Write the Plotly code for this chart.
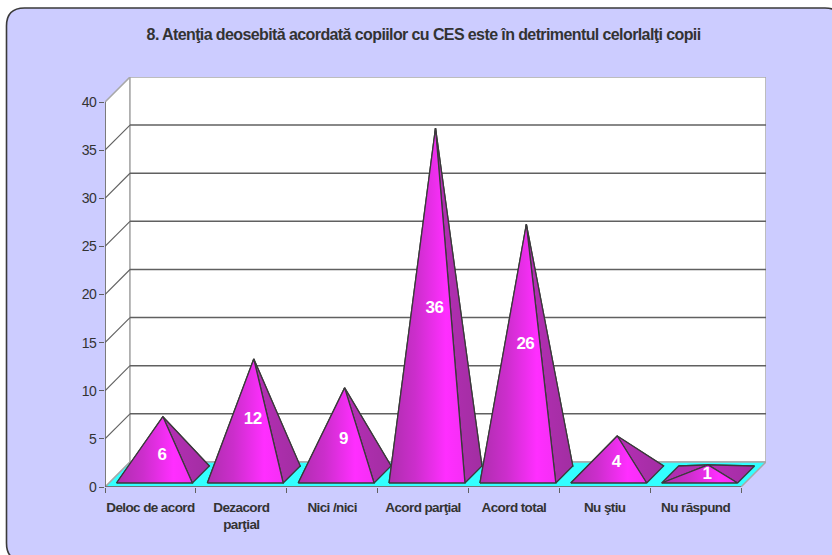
import plotly.graph_objects as go

# ---- data ----
categories = ["Deloc de acord", "Dezacord<br>parţial", "Nici /nici", "Acord parţial",
              "Acord total", "Nu ştiu", "Nu răspund"]
values = [6, 12, 9, 36, 26, 4, 1]
label_levels = [3.2, 7.0, 4.9, 18.5, 14.8, 2.5, 1.3]
y_ticks = [0, 5, 10, 15, 20, 25, 30, 35, 40]
title_text = "8. Atenţia deosebită acordată copiilor cu CES este în detrimentul celorlalţi copii"

# ---- layout constants ----
W, H = 832, 555
ML, MR, MT, MB = 105, 66, 77, 68
DX, DY = 0.275, 2.6          # oblique depth of the 3D box in axis units
FONT = "Liberation Sans, Arial, sans-serif"
TEXT = "#333333"
GRID = "#606060"
n = len(categories)
top = y_ticks[-1]

fig = go.Figure()


def poly(xs, ys, fill=None, line=None, width=1.0, gradient=None, mode="lines"):
    kw = dict(x=xs, y=ys, mode=mode, hoverinfo="skip", showlegend=False, cliponaxis=False)
    kw["line"] = dict(color=line or "rgba(0,0,0,0)", width=width, simplify=False)
    if gradient:
        kw["fill"] = "toself"
        kw["fillgradient"] = gradient
    elif fill:
        kw["fill"] = "toself"
        kw["fillcolor"] = fill
    fig.add_trace(go.Scatter(**kw))


# walls
poly([0, DX, DX, 0, 0], [0, DY, top + DY, top, 0], fill="#FFFFFF", line="#A8A8A8", width=1.2)
poly([DX, n + DX, n + DX, DX, DX], [DY, DY, top + DY, top + DY, DY], fill="#FFFFFF", line="#A8A8A8", width=1.5)

# gridlines
for t in y_ticks[1:-1]:
    poly([DX, n + DX], [t + DY, t + DY], line=GRID, width=1.5)
for t in y_ticks[1:]:
    poly([0, DX], [t, t + DY], line=GRID if t < top else "#A8A8A8", width=1.1)

# floor
poly([0, n, n + DX, DX, 0], [0, 0, DY, DY, 0], fill="#33FFFF", line="#A8A8A8", width=1.5)

# pyramids
front_gradient = dict(type="horizontal",
                      colorscale=[[0, "#AE2EAE"], [0.35, "#CC2ECC"], [0.75, "#FF2EFF"], [1, "#F52EF5"]])
side_gradient = dict(type="horizontal",
                     colorscale=[[0, "#B52EB5"], [1, "#A22EA2"]])
GAP, D0, D1 = 0.0825, 0.16, 0.84
EDGE = "#3A3A3A"
for i, v in enumerate(values):
    xl, xr = i + GAP, i + 1 - GAP
    fl = (xl + D0 * DX, D0 * DY)
    fr = (xr + D0 * DX, D0 * DY)
    br = (xr + D1 * DX, D1 * DY)
    bl = (xl + D1 * DX, D1 * DY)
    ap = (i + 0.5 + 0.5 * DX, 0.5 * DY + v)
    for a, b, fill in ((bl, br, "#9E2E9E"), (fl, bl, "#B02EB0")):
        poly([a[0], b[0], ap[0], a[0]], [a[1], b[1], ap[1], a[1]], fill=fill, line=EDGE, width=1.3)
    poly([fr[0], br[0], ap[0], fr[0]], [fr[1], br[1], ap[1], fr[1]],
         gradient=side_gradient, line=EDGE, width=1.3)
    poly([fl[0], fr[0], ap[0], fl[0]], [fl[1], fr[1], ap[1], fl[1]],
         gradient=front_gradient, line=EDGE, width=1.3)

# axis lines
poly([0, n], [0, 0], line=GRID, width=1.5)
poly([0, 0], [0, top], line=GRID, width=1.5)

# data labels
fig.add_trace(go.Scatter(
    x=[i + 0.5 + 0.5 * DX - 0.012 for i in range(n)], y=label_levels,
    text=[str(v) for v in values], mode="text", textposition="middle center",
    textfont=dict(family=FONT, size=17, color="#FFFFFF", weight="bold"),
    hoverinfo="skip", showlegend=False, cliponaxis=False))

# ---- panel behind everything (rounded, running off the right and bottom) ----
def px(x):
    return (x - ML) / (W - ML - MR)


def py(y):
    return 1 - (y - MT) / (H - MT - MB)


L, T, R, B, C = 6.5, 8, 843, 561, 18
path = (f"M {px(L)},{py(T + C)} Q {px(L)},{py(T)} {px(L + C)},{py(T)} "
        f"L {px(R - C)},{py(T)} Q {px(R)},{py(T)} {px(R)},{py(T + C)} "
        f"L {px(R)},{py(B - C)} Q {px(R)},{py(B)} {px(R - C)},{py(B)} "
        f"L {px(L + C)},{py(B)} Q {px(L)},{py(B)} {px(L)},{py(B - C)} Z")

fig.update_layout(
    width=W, height=H, autosize=False,
    margin=dict(l=ML, r=MR, t=MT, b=MB, pad=0),
    paper_bgcolor="#FFFFFF", plot_bgcolor="rgba(0,0,0,0)",
    showlegend=False,
    shapes=[dict(type="path", xref="paper", yref="paper", path=path, layer="below",
                 fillcolor="#CCCCFF", line=dict(color="#3A3A3A", width=1.6))],
    annotations=[dict(text=title_text, xref="paper", yref="paper", x=px(423), y=py(35),
                      xanchor="center", yanchor="middle", showarrow=False,
                      font=dict(family=FONT, size=16, color=TEXT, weight="bold"))],
    xaxis=dict(range=[0, n + DX], showgrid=False, zeroline=False, showline=False,
               tickmode="array", tickvals=[i + 0.5 for i in range(n)], ticktext=categories,
               ticks="", ticklen=0, ticklabelstandoff=10,
               tickfont=dict(family=FONT, size=13.5, color=TEXT, weight="bold"),
               minor=dict(tickmode="array", tickvals=list(range(n + 1)), ticks="outside",
                          ticklen=5, tickwidth=1.2, tickcolor=GRID)),
    yaxis=dict(range=[0, top + DY], showgrid=False, zeroline=False, showline=False,
               tickmode="array", tickvals=y_ticks, ticks="outside", ticklen=5, tickwidth=1.2,
               tickcolor=GRID, ticklabelstandoff=0,
               tickfont=dict(family=FONT, size=14, color=TEXT)),
)

# no page margin; tighter letter-spacing stands in for the original's narrow typeface
post = ("document.body.style.margin='0';"
        "var s=document.createElement('style');"
        "s.textContent='svg text{letter-spacing:-0.6px}';"
        "document.head.appendChild(s);")
fig.write_html("out.html", post_script=post, config={"displayModeBar": False})
